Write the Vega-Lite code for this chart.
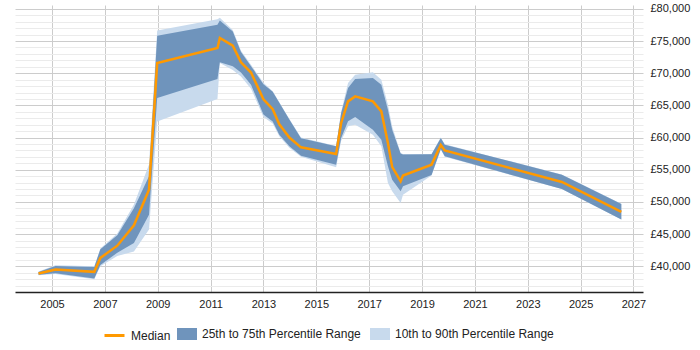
{
  "$schema": "https://vega.github.io/schema/vega-lite/v6.json",
  "width": 628,
  "height": 287,
  "autosize": "none",
  "padding": {"left": 15, "top": 5, "right": 57, "bottom": 58},
  "background": "white",
  "config": {
    "view": {"stroke": null},
    "font": "Liberation Sans",
    "axis": {"labelFont": "Liberation Sans", "labelFontSize": 11, "labelColor": "#222"},
    "legend": {"labelFont": "Liberation Sans", "labelFontSize": 12, "labelColor": "#222"}
  },
  "data": {
    "values": [
      {"date": 2004.49, "p10": 38600, "p25": 38700, "median": 38870, "p75": 39100, "p90": 39200},
      {"date": 2005.13, "p10": 38800, "p25": 38900, "median": 39490, "p75": 40050, "p90": 40150},
      {"date": 2006.6, "p10": 38000, "p25": 38100, "median": 39130, "p75": 39900, "p90": 40000},
      {"date": 2006.83, "p10": 40000, "p25": 40200, "median": 41300, "p75": 42650, "p90": 42750},
      {"date": 2007.47, "p10": 41600, "p25": 42100, "median": 43200, "p75": 44800, "p90": 45100},
      {"date": 2008.1, "p10": 42300, "p25": 43600, "median": 46370, "p75": 49000, "p90": 49600},
      {"date": 2008.67, "p10": 45700, "p25": 48000, "median": 51900, "p75": 54000, "p90": 55800},
      {"date": 2008.98, "p10": 62500, "p25": 66150, "median": 71590, "p75": 75830, "p90": 76650},
      {"date": 2011.26, "p10": 66000, "p25": 69100, "median": 73920, "p75": 77540, "p90": 78400},
      {"date": 2011.35, "p10": 71600, "p25": 71700, "median": 75470, "p75": 78200, "p90": 78600},
      {"date": 2011.84, "p10": 70500, "p25": 71100, "median": 74280, "p75": 76500, "p90": 76700},
      {"date": 2012.15, "p10": 69500, "p25": 70100, "median": 71690, "p75": 73300, "p90": 73500},
      {"date": 2012.53, "p10": 67600, "p25": 68200, "median": 70100, "p75": 71100, "p90": 71300},
      {"date": 2013.0, "p10": 63200, "p25": 63600, "median": 65950, "p75": 68300, "p90": 68500},
      {"date": 2013.35, "p10": 62200, "p25": 62500, "median": 64400, "p75": 67100, "p90": 67200},
      {"date": 2013.6, "p10": 60200, "p25": 60450, "median": 62050, "p75": 65400, "p90": 65500},
      {"date": 2013.98, "p10": 58400, "p25": 58640, "median": 60000, "p75": 62800, "p90": 62900},
      {"date": 2014.42, "p10": 57000, "p25": 57190, "median": 58480, "p75": 59900, "p90": 60000},
      {"date": 2015.75, "p10": 55400, "p25": 55790, "median": 57450, "p75": 58640, "p90": 58700},
      {"date": 2015.94, "p10": 59500, "p25": 59940, "median": 62270, "p75": 63820, "p90": 64000},
      {"date": 2016.2, "p10": 61740, "p25": 62520, "median": 65620, "p75": 67700, "p90": 68480},
      {"date": 2016.47, "p10": 62000, "p25": 63200, "median": 66400, "p75": 69100, "p90": 69770},
      {"date": 2017.14, "p10": 60450, "p25": 61230, "median": 65620, "p75": 69250, "p90": 70130},
      {"date": 2017.46, "p10": 58640, "p25": 59670, "median": 64070, "p75": 68220, "p90": 69000},
      {"date": 2017.71, "p10": 52950, "p25": 55530, "median": 59160, "p75": 64330, "p90": 65110},
      {"date": 2017.87, "p10": 51650, "p25": 53460, "median": 55440, "p75": 61230, "p90": 61700},
      {"date": 2018.19, "p10": 49850, "p25": 51650, "median": 53200, "p75": 57520, "p90": 57600},
      {"date": 2018.28, "p10": 51130, "p25": 52420, "median": 54090, "p75": 57370, "p90": 57450},
      {"date": 2019.36, "p10": 54100, "p25": 54200, "median": 55790, "p75": 57400, "p90": 57450},
      {"date": 2019.71, "p10": 58100, "p25": 58230, "median": 58850, "p75": 59940, "p90": 60000},
      {"date": 2019.86, "p10": 57000, "p25": 57080, "median": 58000, "p75": 58900, "p90": 58950},
      {"date": 2024.29, "p10": 52000, "p25": 52020, "median": 53100, "p75": 54240, "p90": 54260},
      {"date": 2026.54, "p10": 47250, "p25": 47250, "median": 48450, "p75": 49690, "p90": 49700}
    ]
  },
  "encoding": {
    "x": {
      "field": "date",
      "type": "quantitative",
      "scale": {"domain": [2003.6, 2027.36], "nice": false, "zero": false},
      "axis": {
        "title": null,
        "values": [2005, 2007, 2009, 2011, 2013, 2015, 2017, 2019, 2021, 2023, 2025, 2027],
        "format": "d",
        "grid": true,
        "gridColor": "#cccccc",
        "ticks": false,
        "labelPadding": 6,
        "domainColor": "#222",
        "domainWidth": 1.5
      }
    }
  },
  "layer": [
    {
      "mark": {"type": "area", "opacity": 1},
      "encoding": {
        "y": {
          "field": "p10",
          "type": "quantitative",
          "scale": {"domain": [36000, 80600], "nice": false, "zero": false},
          "axis": {
            "orient": "right",
            "title": null,
            "values": [37000, 38000, 39000, 40000, 41000, 42000, 43000, 44000, 45000, 46000, 47000, 48000, 49000, 50000, 51000, 52000, 53000, 54000, 55000, 56000, 57000, 58000, 59000, 60000, 61000, 62000, 63000, 64000, 65000, 66000, 67000, 68000, 69000, 70000, 71000, 72000, 73000, 74000, 75000, 76000, 77000, 78000, 79000, 80000],
            "tickCount": 100,
            "labelExpr": "datum.value % 5000 === 0 ? '£' + format(datum.value, ',') : ''",
            "labelOverlap": false,
            "labelBound": false,
            "grid": true,
            "gridColor": {"condition": {"test": "datum.value % 5000 === 0", "value": "#cccccc"}, "value": "#ebebeb"},
            "ticks": false,
            "domain": false,
            "labelPadding": 7,
            "labelAlign": "left"
          }
        },
        "y2": {"field": "p90"},
        "fill": {
          "datum": "10th to 90th Percentile Range",
          "type": "nominal",
          "scale": {
            "domain": ["25th to 75th Percentile Range", "10th to 90th Percentile Range"],
            "range": ["#6f94bc", "#c8daed"]
          },
          "legend": {
            "title": null,
            "orient": "none",
            "direction": "horizontal",
            "legendX": 162,
            "legendY": 319,
            "symbolSize": 400,
            "symbolType": "M-1,-0.6H1V0.6H-1Z",
            "symbolStrokeWidth": 0,
            "symbolOpacity": 1,
            "labelOffset": 5,
            "columnPadding": 9,
            "padding": 0
          }
        }
      }
    },
    {
      "mark": {"type": "area", "opacity": 1},
      "encoding": {
        "y": {"field": "p25", "type": "quantitative"},
        "y2": {"field": "p75"},
        "fill": {"datum": "25th to 75th Percentile Range", "type": "nominal"}
      }
    },
    {
      "mark": {"type": "line", "strokeWidth": 2.5},
      "encoding": {
        "y": {"field": "median", "type": "quantitative"},
        "stroke": {
          "datum": "Median",
          "type": "nominal",
          "scale": {"domain": ["Median"], "range": ["#ff9900"]},
          "legend": {
            "title": null,
            "orient": "none",
            "direction": "horizontal",
            "legendX": 88,
            "legendY": 319,
            "symbolSize": 400,
            "symbolType": "stroke",
            "symbolStrokeWidth": 3,
            "labelOffset": 5,
            "padding": 0
          }
        }
      }
    }
  ]
}
